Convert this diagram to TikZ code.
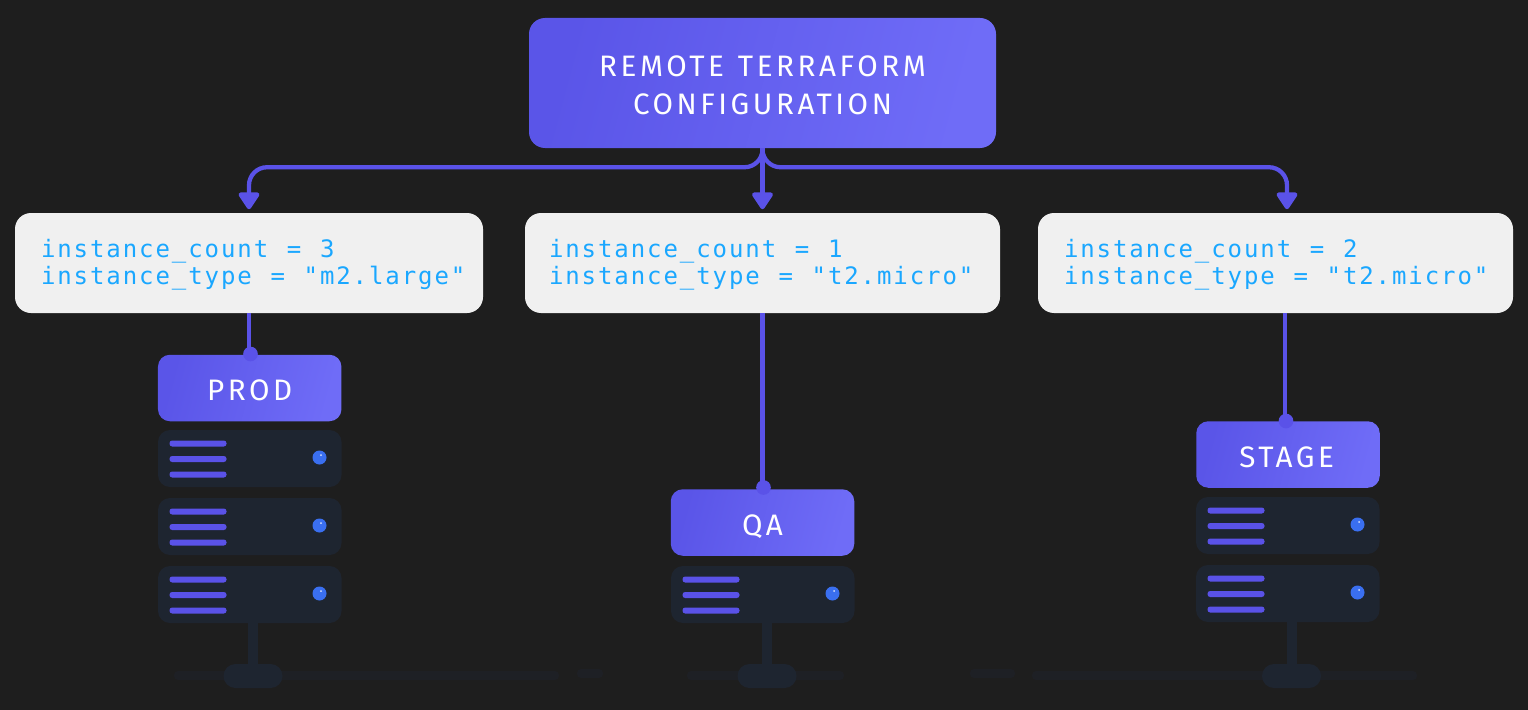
\documentclass[tikz,border=0pt]{standalone}
\usepackage{fontspec}
\setmainfont{Fira Sans}
\newfontfamily\labelfont[LetterSpace=12]{Fira Sans}
\newfontfamily\codefont[LetterSpace=8]{DejaVu Sans Mono}
\usetikzlibrary{arrows.meta,calc}
\definecolor{bg}{HTML}{1E1E1E}
\definecolor{violetA}{HTML}{5A55E8}
\definecolor{violetB}{HTML}{6F6CF7}
\definecolor{line}{HTML}{5A52E8}
\definecolor{card}{HTML}{F0F0F0}
\definecolor{codeblue}{HTML}{1AA7FF}
\definecolor{rack}{HTML}{1E2530}
\definecolor{faint}{HTML}{1E2025}
\definecolor{led}{HTML}{3A6FF0}
\def\pxu{0.75pt}
\tikzset{
  x=0.75pt,y=-0.75pt,
  gradbox/.style={rounded corners=12pt,left color=violetA,right color=violetB,shading angle=75,inner sep=0pt,text=white,align=center},
  cfgbox/.style={rounded corners=12pt,fill=card,inner sep=0pt,text=codeblue,align=left,font=\codefont\fontsize{18}{20}\selectfont},
  conn/.style={draw=line,line width=3.2pt},
  arrowconn/.style={conn,-{Triangle[width=17.5pt,length=14pt,round]}},
  pin/.style={circle,fill=line,minimum size=11pt,inner sep=0pt},
}
\newcommand{\rackunit}[2]{%
  \fill[rack,rounded corners=9pt] (#1,#2) rectangle ++(183.5,57);
  \foreach \dy in {13.5,29,44.5}{\fill[line,rounded corners=2pt] (#1+11.5,#2+\dy-3) rectangle ++(57,6);}
  \fill[led] (#1+161.5,#2+27.5) circle (7);
  \fill[white!80!led] (#1+163,#2+25) circle (1);
}
\newcommand{\rackbase}[1]{%
  \fill[rack] (#1-5,622) rectangle (#1+5,668);
  \fill[rack,rounded corners=9pt] (#1-29.5,664) rectangle (#1+29.5,688);
}
\newcommand{\cs}{\hspace{14pt}}
\newcommand{\ws}{\hspace{10.5pt}}
\newcommand{\down}[2]{\raisebox{-#1}[\height][\depth]{#2}}
\newcommand{\cfgtext}[3]{\down{1.5pt}{\makebox[#1][l]{#2}}\\[0.5pt]\down{1.5pt}{\makebox[#1][l]{#3}}}
\begin{document}
\begin{tikzpicture}
\useasboundingbox[fill=bg] (0,0) rectangle (1528,710);
% faint ground
\fill[faint,rounded corners=3pt] (174,671) rectangle (559,680);
\fill[faint,rounded corners=3pt] (577,669) rectangle (603,678);
\fill[faint,rounded corners=3pt] (687,671) rectangle (844,680);
\fill[faint,rounded corners=3pt] (970,669) rectangle (1015,678);
\fill[faint,rounded corners=3pt] (1032,671) rectangle (1417,680);
% nodes
\node[gradbox,minimum width=467*\pxu,minimum height=130*\pxu,font=\labelfont\fontsize{22.2}{28.5}\selectfont] (top) at (762.5,83) {\down{2pt}{REMOTE\ws TERRAFORM}\\\down{2pt}{CONFIGURATION}};
\node[cfgbox,minimum width=468*\pxu,minimum height=100*\pxu,text width=312pt] (cfgA) at (249,263)
  {\cfgtext{312pt}{instance\_count\cs=\cs3}{instance\_type\cs=\cs"m2.large"}};
\node[cfgbox,minimum width=475*\pxu,minimum height=100*\pxu,text width=320.25pt] (cfgB) at (762.5,263)
  {\cfgtext{320.25pt}{instance\_count\cs=\cs1}{instance\_type\cs=\cs"t2.micro"}};
\node[cfgbox,minimum width=475*\pxu,minimum height=100*\pxu,text width=317.25pt] (cfgC) at (1275.5,263)
  {\cfgtext{317.25pt}{instance\_count\cs=\cs2}{instance\_type\cs=\cs"t2.micro"}};
\tikzset{envbox/.style={gradbox,rounded corners=9pt,minimum width=183.5*\pxu,minimum height=66.5*\pxu,font=\labelfont\fontsize{22.2}{24}\selectfont}}
\node[envbox] (prod) at (249.7,388) {\down{2pt}{PROD}};
\node[envbox] (qa) at (762.5,522.5) {\down{3pt}{QA}};
\node[envbox] (stage) at (1288,454.5) {\hspace*{-2pt}\down{2pt}{STAGE}};
% racks
\rackbase{253}\rackbase{767}\rackbase{1291.5}
\rackunit{158}{430}\rackunit{158}{498}\rackunit{158}{566}
\rackunit{671}{566}
\rackunit{1196}{497}\rackunit{1196}{565}
% pins
\node[pin] (pinA) at (250.5,354) {};
\node[pin] (pinB) at (763.5,487.5) {};
\node[pin] (pinC) at (1286,421) {};
% connectors
\draw[conn] (cfgA.south) -- (pinA.center -| cfgA.south);
\draw[conn] (cfgB.south) -- (pinB.center -| cfgB.south);
\draw[conn] ($(cfgC.south)+(9.5,0)$) -- ($(pinC.center)+(-1,0)$);
\draw[arrowconn,rounded corners=13.5pt] (top.south) |- ($(cfgA.north)+(0,-45.5)$) -- ($(cfgA.north)+(0,-3.5)$);
\draw[arrowconn] (top.south) -- ($(cfgB.north)+(0,-3.5)$);
\draw[arrowconn,rounded corners=13.5pt] (top.south) |- ($(cfgC.north)+(11.5,-45.5)$) -- ($(cfgC.north)+(11.5,-3.5)$);
\end{tikzpicture}
\end{document}
